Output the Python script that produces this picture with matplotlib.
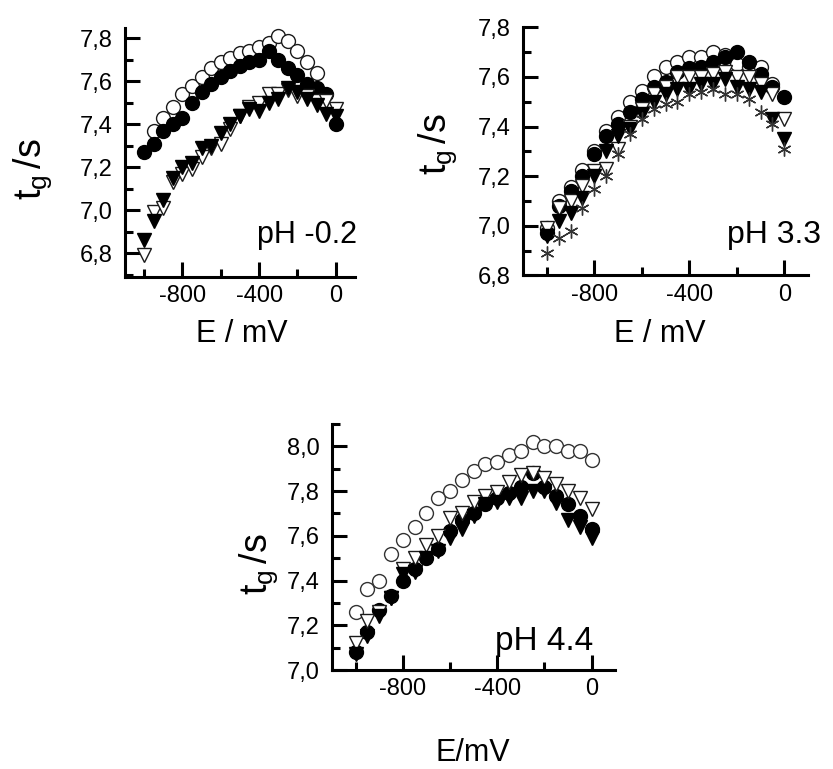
import numpy as np
import matplotlib
matplotlib.use('Agg')
import matplotlib.pyplot as plt
from matplotlib.ticker import MultipleLocator, FuncFormatter

plt.rcParams['font.family'] = ['Liberation Sans', 'DejaVu Sans']
plt.rcParams['mathtext.fontset'] = 'custom'
plt.rcParams['mathtext.rm'] = 'Liberation Sans'
plt.rcParams['mathtext.it'] = 'Liberation Sans'
plt.rcParams['axes.unicode_minus'] = False

# potential E / mV, 50 mV steps
E = np.arange(-1000, 1, 50)

######## pH -0.2 ########
p1_open_circ = [7.37, 7.43, 7.48, 7.54, 7.58, 7.62, 7.66, 7.69, 7.71, 7.73,
                7.74, 7.76, 7.78, 7.81, 7.79, 7.74, 7.69, 7.64]
p1_fill_circ = [7.27, 7.31, 7.37, 7.40, 7.43, 7.50, 7.55, 7.59, 7.62, 7.65, 7.67,
                7.69, 7.70, 7.74, 7.70, 7.66, 7.63, 7.59, 7.57, 7.54, 7.40]
p1_open_tri = [6.79, 6.99, 7.01, 7.13, 7.17, 7.19, 7.25, 7.29, 7.31, 7.38, 7.44,
               7.48, 7.50, 7.54, 7.54, 7.56, 7.53, 7.53, 7.51, 7.51, 7.47]
p1_fill_tri = [6.86, 6.95, 7.05, 7.15, 7.20, 7.22, 7.29, 7.30, 7.36, 7.40, 7.44,
               7.47, 7.46, 7.50, 7.52, 7.57, 7.55, 7.52, 7.49, 7.45, 7.44]

######## pH 3.3 ########
p2_open_circ = [6.99, 7.10, 7.155, 7.225, 7.30, 7.38, 7.44, 7.50, 7.545, 7.605, 7.64,
                7.66, 7.68, 7.68, 7.70, 7.69, 7.65, 7.64, 7.64, 7.57]
p2_fill_circ = [6.97, 7.08, 7.14, 7.20, 7.29, 7.36, 7.41, 7.46, 7.51, 7.56, 7.58,
                7.62, 7.635, 7.64, 7.66, 7.68, 7.70, 7.66, 7.61, 7.56, 7.52]
p2_open_tri = [6.99, 7.07, 7.10, 7.16, 7.22, 7.23, 7.31, 7.40, 7.47, 7.53, 7.56,
               7.60, 7.60, 7.60, 7.61, 7.62, 7.60, 7.60, 7.57, 7.53, 7.43]
p2_fill_tri = [6.96, 7.02, 7.05, 7.11, 7.20, 7.30, 7.36, 7.39, 7.45, 7.50, 7.53,
               7.55, 7.55, 7.57, 7.57, 7.59, 7.56, 7.55, 7.54, 7.43, 7.35]
p2_star = [6.89, 6.95, 6.98, 7.07, 7.15, 7.20, 7.29, 7.37, 7.43, 7.47, 7.49,
           7.50, 7.53, 7.54, 7.55, 7.53, 7.53, 7.51, 7.46, 7.41, 7.31]

######## pH 4.4 ########
p3_open_circ = [7.26, 7.36, 7.40, 7.52, 7.58, 7.64, 7.70, 7.77, 7.80, 7.85, 7.89,
                7.92, 7.93, 7.96, 7.98, 8.02, 8.00, 8.00, 7.98, 7.98, 7.94]
p3_fill_circ = [7.08, 7.17, 7.27, 7.33, 7.40, 7.45, 7.50, 7.54, 7.62, 7.67, 7.70,
                7.74, 7.77, 7.79, 7.82, 7.88, 7.82, 7.78, 7.74, 7.69, 7.63]
p3_open_tri = [7.12, 7.22, 7.26, 7.32, 7.45, 7.50, 7.56, 7.60, 7.68, 7.70, 7.75,
               7.78, 7.795, 7.84, 7.87, 7.88, 7.86, 7.83, 7.80, 7.77, 7.72]
p3_fill_tri = [7.07, 7.15, 7.24, 7.32, 7.43, 7.44, 7.50, 7.53, 7.59, 7.63, 7.69,
               7.74, 7.75, 7.77, 7.77, 7.80, 7.80, 7.745, 7.67, 7.64, 7.59]

comma = FuncFormatter(lambda v, p: ('%.1f' % v).replace('.', ','))
ms = 10


def style(ax, ylim, ylab_xy, xlab, xlab_xy, ph, ph_xy, phsize):
    ax.set_xlim(-1100, 100)
    ax.set_ylim(*ylim)
    for s in ['top', 'right']:
        ax.spines[s].set_visible(False)
    for s in ['left', 'bottom']:
        ax.spines[s].set_linewidth(2.2)
    ax.xaxis.set_major_locator(MultipleLocator(400))
    ax.xaxis.set_minor_locator(MultipleLocator(200))
    ax.yaxis.set_major_locator(MultipleLocator(0.2))
    ax.yaxis.set_minor_locator(MultipleLocator(0.1))
    ax.yaxis.set_major_formatter(comma)
    ax.tick_params(which='major', direction='in', length=11, width=2.2, labelsize=17)
    ax.tick_params(which='minor', direction='in', length=6, width=2.2)
    ax.tick_params(axis='y', pad=9)
    ax.tick_params(axis='x', pad=6)
    ax.text(ylab_xy[0], ylab_xy[1], r'$\mathregular{t_g\,/s}$', transform=ax.transAxes,
            rotation=90, ha='center', va='center', fontsize=27)
    ax.text(xlab_xy[0], xlab_xy[1], xlab, transform=ax.transAxes,
            ha='center', va='center', fontsize=22)
    ax.text(ph_xy[0], ph_xy[1], ph, transform=ax.transAxes,
            ha='left', va='baseline', fontsize=phsize)


fig = plt.figure(figsize=(8.33, 7.69), dpi=100)

############ pH -0.2 ############
ax1 = fig.add_axes([0.150, 0.640, 0.276, 0.324])
ax1.plot(E[1:19], p1_open_circ, 'o', ms=ms, mfc='white', mec='0.1', mew=1, clip_on=False)
ax1.plot(E, p1_fill_circ, 'o', ms=ms, color='k', clip_on=False)
ax1.plot(E, p1_open_tri, 'v', ms=ms, mfc='white', mec='0.1', mew=1, clip_on=False)
ax1.plot(E, p1_fill_tri, 'v', ms=ms, color='k', clip_on=False)
style(ax1, (6.69, 7.85), (-0.40, 0.43), 'E / mV', (0.51, -0.23),
      'pH -0.2', (0.574, 0.137), 22)

############ pH 3.3 ############
ax2 = fig.add_axes([0.628, 0.642, 0.342, 0.3225])
ax2.plot(E[:20], p2_open_circ, 'o', ms=ms, mfc='white', mec='0.1', mew=1, clip_on=False)
ax2.plot(E, p2_fill_circ, 'o', ms=ms, color='k', clip_on=False)
ax2.plot(E, p2_open_tri, 'v', ms=ms, mfc='white', mec='0.1', mew=1, clip_on=False)
ax2.plot(E, p2_fill_tri, 'v', ms=ms, color='k', clip_on=False)
ax2.plot(E, p2_star, marker=(6, 2, 0), ls='none', ms=ms, mec='0.2', mew=1, clip_on=False)
style(ax2, (6.8, 7.8), (-0.30, 0.53), 'E / mV', (0.48, -0.238),
      'pH 3.3', (0.716, 0.129), 23)

############ pH 4.4 ############
ax3 = fig.add_axes([0.3986, 0.1287, 0.340, 0.320])
ax3.plot(E, p3_open_circ, 'o', ms=ms, mfc='white', mec='0.2', mew=1, clip_on=False)
ax3.plot(E, p3_fill_circ, 'o', ms=ms, color='k', clip_on=False)
ax3.plot(E, p3_open_tri, 'v', ms=ms, mfc='white', mec='0.1', mew=1, clip_on=False)
ax3.plot(E, p3_fill_tri, 'v', ms=ms, color='k', clip_on=False)
style(ax3, (7.0, 8.1), (-0.26, 0.43), 'E/mV', (0.498, -0.337),
      'pH 4.4', (0.576, 0.081), 24)

plt.savefig('out.png', dpi=100)
